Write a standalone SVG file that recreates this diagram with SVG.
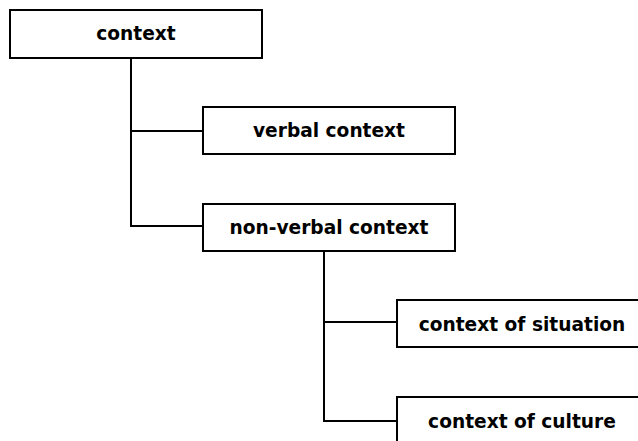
<svg xmlns="http://www.w3.org/2000/svg" width="638" height="441" viewBox="0 0 638 441">
<style>
.box{fill:#fff;stroke:#000;stroke-width:2}
.lbl{font-family:"DejaVu Sans",Verdana,sans-serif;font-weight:bold;font-size:18.6px;fill:#000;text-anchor:middle}
.con{fill:none;stroke:#000;stroke-width:2}
</style>
<rect width="638" height="441" fill="#fff"/>
<g id="connectors">
<path class="con" d="M131 58 V226 H203 M131 131 H203"/>
<path class="con" d="M324 251 V421 H397 M324 322 H397"/>
</g>
<g id="context"><rect class="box" x="10" y="10" width="252" height="48"/><text class="lbl" x="136" y="40">context</text></g>
<g id="verbal"><rect class="box" x="203" y="107" width="252" height="47"/><text class="lbl" x="329" y="137">verbal context</text></g>
<g id="nonverbal"><rect class="box" x="203" y="204" width="252" height="47"/><text class="lbl" x="329" y="234">non-verbal context</text></g>
<g id="situation"><rect class="box" x="397" y="300" width="252" height="47"/><text class="lbl" x="522" y="331">context of situation</text></g>
<g id="culture"><rect class="box" x="397" y="397" width="252" height="47"/><text class="lbl" x="522" y="428">context of culture</text></g>
</svg>
